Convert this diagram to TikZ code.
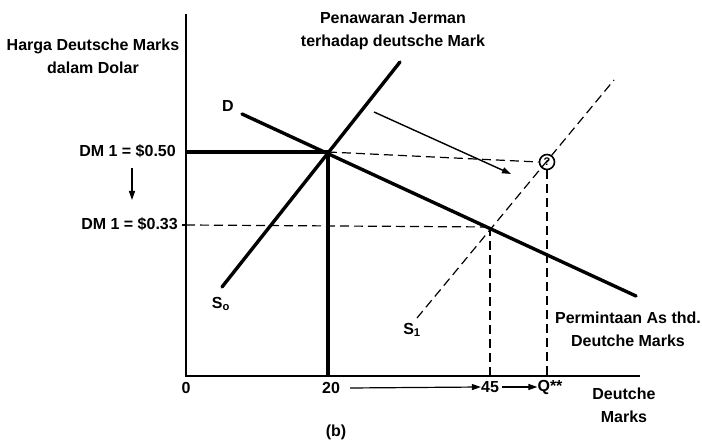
\documentclass[tikz,border=0pt]{standalone}
\usepackage{fontspec}
\setmainfont{Liberation Sans}
\usetikzlibrary{arrows.meta}
\begin{document}
\begin{tikzpicture}[x=1pt,y=-1pt,
  lbl/.style={font=\fontsize{16}{18}\selectfont\bfseries, inner sep=0pt, align=center},
  thickline/.style={line width=3.4pt, line cap=round},
  axisline/.style={line width=1.6pt},
  dashline/.style={line width=1.2pt, dash pattern=on 9pt off 5pt},
  arr/.style={line width=1.4pt, -{Triangle[length=9pt,width=6pt]}}
]
\useasboundingbox (0,0) rectangle (702,443);
% axes
\coordinate (O) at (186,376);
\coordinate (Ytop) at (186,14);
\coordinate (Xend) at (640,376);
\draw[axisline] (Ytop) -- (O) -- (Xend);
% key points
\coordinate (E0) at (328,152);
\coordinate (E1) at (490,227);
\coordinate (Y50) at (186,152);
\coordinate (Y33) at (186,225);
\coordinate (X20) at (328,376);
\coordinate (X45) at (490,376);
\coordinate (XQ) at (547,376);
\node[draw, circle, line width=1.6pt, minimum size=15pt, inner sep=0pt, font=\fontsize{11}{11}\selectfont\bfseries] (C) at (547,162) {?};
% price lines
\draw[thickline, line cap=butt] (Y50) -- (E0);
\draw[thickline, line cap=butt] (E0) -- (X20);
\draw[dashline] (E0) -- (C.west);
\draw[dashline] (Y33) -- (E1);
\draw[dashline] (E1) -- (X45);
\draw[dashline] (C.south) -- (XQ);
\draw[axisline] (Y33) -- ++(-4,0);
% curves
\coordinate (S0a) at (222,287);
\coordinate (S0b) at (400,62);
\draw[thickline] (S0a) -- (S0b);
\coordinate (Da) at (242,114);
\coordinate (Db) at (636,296);
\draw[thickline] (Da) -- (Db);
\coordinate (S1a) at (417,318);
\coordinate (S1b) at (614,80);
\draw[dashline] (S1a) -- (S1b);
% shift arrow
\coordinate (Sh1) at (374,112);
\coordinate (Sh2) at (511,174);
\draw[arr] (Sh1) -- (Sh2);
% price arrow
\coordinate (Pa1) at (132,168);
\coordinate (Pa2) at (132,200);
\draw[arr] (Pa1) -- (Pa2);
% labels
\node[lbl] (ylab) at (93,56) {Harga Deutsche Marks\\[5pt]dalam Dolar};
\node[lbl] (slab) at (393,31) {Penawaran Jerman\\[5pt]terhadap deutsche Mark};
\node[lbl] (Dl) at (228,106) {D};
\node[lbl, anchor=east] (p50) at (176,151) {DM 1 = \$0.50};
\node[lbl, anchor=east] (p33) at (178,224) {DM 1 = \$0.33};
\node[lbl] (S0l) at (221,304) {S\textsubscript{o}};
\node[lbl] (S1l) at (412,330) {S\textsubscript{1}};
\node[lbl] (dlab) at (628,329) {Permintaan As thd.\\[5pt]Deutche Marks};
\node[lbl] (xlab) at (624,405) {Deutche\\[5pt]Marks};
\node[lbl] (b) at (336,432) {(b)};
\node[lbl] (t0) at (186,388) {0};
\node[lbl] (t20) at (331,388) {20};
\node[lbl] (t45) at (490,387) {45};
\node[lbl] (tQ) at (550,387) {Q**};
\draw[arr, line width=1.2pt] (t20.east) ++(10,0) -- (t45.west);
\draw[arr, line width=1.2pt] (t45.east) ++(3,0) -- (tQ.west);
\end{tikzpicture}
\end{document}
